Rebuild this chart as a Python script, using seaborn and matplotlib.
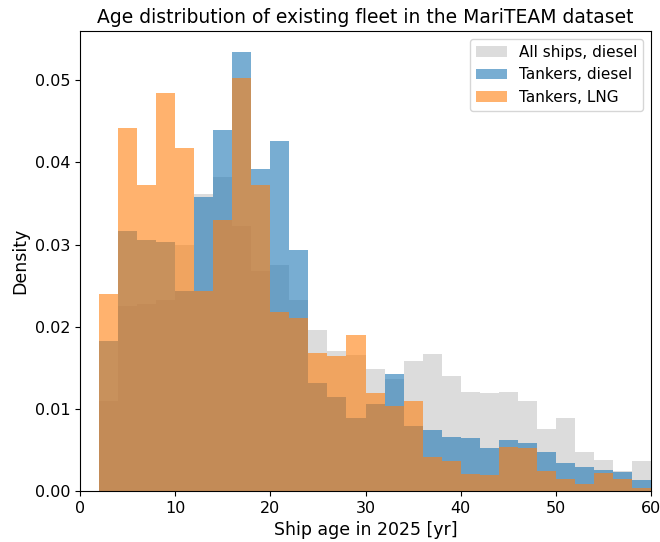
import numpy as np
import pandas as pd
import matplotlib
matplotlib.use("Agg")
import matplotlib.pyplot as plt
import seaborn as sns

# Age bins: 2-year bins from 2 to 60 years
bin_edges = list(range(2, 62, 2))
bin_centers = [e + 1 for e in bin_edges[:-1]]

# Density per bin
all_ships_diesel = [0.0110, 0.0225, 0.0228, 0.0233, 0.0299, 0.0362, 0.0382, 0.0322,
                    0.0268, 0.0275, 0.0233, 0.0196, 0.0171, 0.0165, 0.0149, 0.0136,
                    0.0158, 0.0167, 0.0140, 0.0121, 0.0119, 0.0121, 0.0110, 0.0076,
                    0.0089, 0.0048, 0.0038, 0.0024, 0.0037]
tankers_diesel = [0.0183, 0.0316, 0.0305, 0.0303, 0.0244, 0.0358, 0.0439, 0.0534,
                  0.0392, 0.0426, 0.0294, 0.0131, 0.0114, 0.0089, 0.0106, 0.0143,
                  0.0079, 0.0074, 0.0066, 0.0065, 0.0052, 0.0062, 0.0058, 0.0048,
                  0.0034, 0.0029, 0.0026, 0.0023, 0.0013]
tankers_lng = [0.0240, 0.0442, 0.0373, 0.0484, 0.0417, 0.0244, 0.0330, 0.0503,
               0.0373, 0.0218, 0.0210, 0.0168, 0.0164, 0.0190, 0.0119, 0.0103,
               0.0110, 0.0041, 0.0037, 0.0021, 0.0019, 0.0054, 0.0052, 0.0024,
               0.0015, 0.0009, 0.0022, 0.0015, 0.0004]

series = [
    ("All ships, diesel", all_ships_diesel, "#dcdcdc", 1.0),
    ("Tankers, diesel", tankers_diesel, "#1f77b4", 0.6),
    ("Tankers, LNG", tankers_lng, "#ff7f0e", 0.6),
]

fig = plt.figure(figsize=(6.6, 5.42), dpi=100)
ax = fig.add_axes([80 / 660, 1 - 491 / 542, 571 / 660, 460 / 542])

for label, values, color, alpha in series:
    df = pd.DataFrame({"age": bin_centers, "density": values})
    sns.histplot(data=df, x="age", weights="density", bins=bin_edges,
                 stat="count", color=color, alpha=alpha, linewidth=0,
                 label=label, ax=ax)

ax.set_xlim(0, 60)
ax.set_ylim(0, 0.056)
ax.set_yticks([0.0, 0.01, 0.02, 0.03, 0.04, 0.05])
ax.set_yticklabels([f"{t:.2f}" for t in ax.get_yticks()])
ax.tick_params(labelsize=11.5)
ax.set_xlabel("Ship age in 2025 [yr]", fontsize=12.5)
ax.set_ylabel("Density", fontsize=12.5)
ax.set_title("Age distribution of existing fleet in the MariTEAM dataset",
             fontsize=13.5, pad=6)
ax.legend(loc="upper right", fontsize=11)

fig.savefig("out.png", dpi=100)
